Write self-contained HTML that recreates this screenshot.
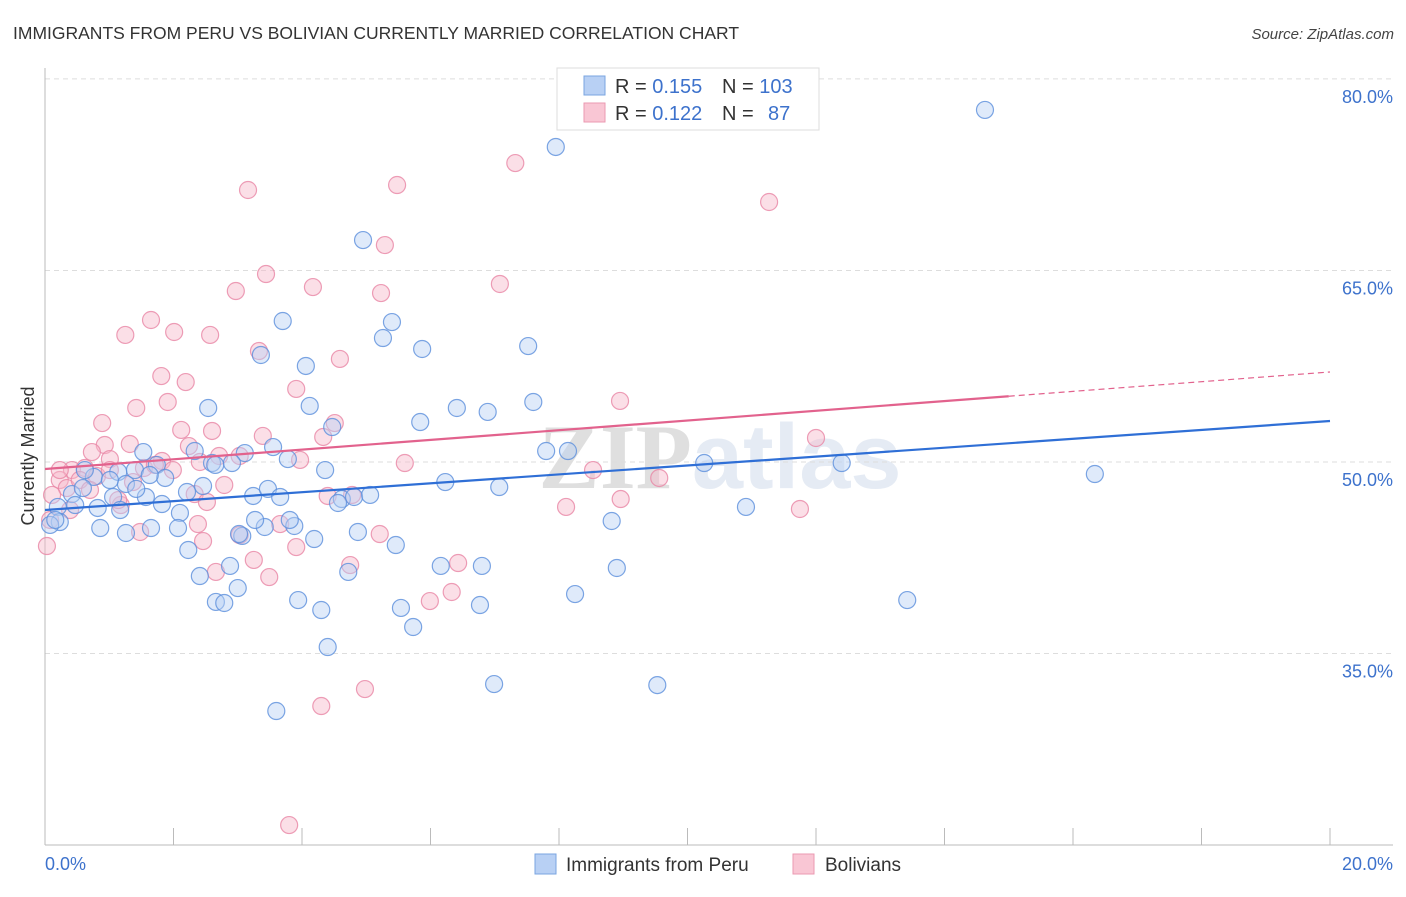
<!DOCTYPE html>
<html><head><meta charset="utf-8"><style>
body{margin:0;background:#fff;font-family:"Liberation Sans",sans-serif;}
svg text{font-family:"Liberation Sans",sans-serif;}
</style></head><body>
<svg id="chart" width="1406" height="892" xmlns="http://www.w3.org/2000/svg">
<text x="13" y="39" font-size="17.5" fill="#333">IMMIGRANTS FROM PERU VS BOLIVIAN CURRENTLY MARRIED CORRELATION CHART</text>
<text x="1394" y="39" font-size="15" fill="#444" text-anchor="end" font-style="italic">Source: ZipAtlas.com</text>
<text x="720" y="488" font-size="92" fill="#dfe7f2" text-anchor="middle" font-weight="bold" opacity="0.8"><tspan fill="#d8d8d8" font-family="Liberation Serif">ZIP</tspan>atlas</text>
<g id="grid"></g><g id="axes"></g><g id="pts"></g><g id="lines"></g>
<text transform="translate(34,456) rotate(-90)" font-size="18" fill="#333" text-anchor="middle">Currently Married</text>
<g>
<rect x="557" y="68" width="262" height="62" fill="#fff" stroke="#ddd"/>
<rect x="584" y="76" width="21" height="19" fill="#b8d0f4" stroke="#7aa5e0"/>
<rect x="584" y="103" width="21" height="19" fill="#f9c6d4" stroke="#eb99b2"/>
<text x="615" y="93" font-size="20" fill="#333">R = <tspan fill="#3d72cc">0.155</tspan>  <tspan x="722">N = </tspan><tspan fill="#3d72cc">103</tspan></text>
<text x="615" y="120" font-size="20" fill="#333">R = <tspan fill="#3d72cc">0.122</tspan>  <tspan x="722">N = </tspan><tspan fill="#3d72cc" x="768">87</tspan></text>
</g>
<g><rect x="535" y="854" width="21" height="20" fill="#b8d0f4" stroke="#7aa5e0"/><text x="566" y="871" font-size="19" fill="#333">Immigrants from Peru</text></g>
<g><rect x="793" y="854" width="21" height="20" fill="#f9c6d4" stroke="#eb99b2"/><text x="825" y="871" font-size="19" fill="#333">Bolivians</text></g>
</svg>
<script>
const xTicks=[0,2,4,6,8,10,12,14,16,18,20];
const yTicks=[35,50,65,80];
const xLabels=["0.0%","20.0%"];
const yLabels=["35.0%","50.0%","65.0%","80.0%"];
const peruX=[14.63,7.95,4.95,3.70,5.40,5.26,5.87,7.52,4.06,3.36,2.54,4.12,6.41,6.89,7.60,5.84,4.47,7.80,8.14,10.26,12.40,16.34,1.53,3.55,3.78,3.11,2.60,2.91,2.33,1.74,1.87,4.36,6.23,7.07,0.76,1.14,0.42,0.59,0.82,1.06,1.57,1.82,2.10,2.46,2.21,3.24,3.47,3.66,4.62,4.81,5.06,4.56,1.26,1.42,0.20,0.23,0.86,1.17,1.65,1.26,2.07,3.07,3.42,3.88,4.19,4.87,5.46,8.82,10.91,2.23,3.02,2.41,2.88,3.00,2.66,2.79,3.94,4.30,4.72,5.54,5.73,6.16,6.80,6.77,8.25,8.90,13.42,4.40,6.99,9.53,3.60,0.08,0.16,0.47,0.62,1.01,1.40,1.63,2.65,3.81,3.27];
const peruY=[77.57,74.67,67.38,61.04,60.96,59.71,58.85,59.08,57.52,58.38,54.23,54.39,54.23,53.92,54.70,53.13,52.74,50.86,50.86,49.92,49.92,49.06,50.78,51.17,50.23,50.70,49.92,49.92,50.86,49.77,48.75,49.37,48.43,48.04,48.83,49.22,47.49,47.96,46.40,47.26,47.26,46.71,46.01,48.12,47.65,47.34,47.89,47.26,47.10,47.26,47.42,46.79,48.28,47.89,46.48,45.30,44.83,46.24,44.83,44.44,44.83,44.21,44.91,44.99,43.97,44.52,43.50,45.38,46.48,43.11,44.36,41.07,41.86,40.13,39.04,38.96,39.19,38.41,41.39,38.57,37.08,41.86,41.86,38.80,39.66,41.70,39.19,35.51,32.61,32.53,30.50,45.07,45.46,46.63,49.37,48.59,49.37,48.98,49.77,45.46,45.46];
const bolX=[3.16,5.48,7.32,11.27,5.29,3.44,2.97,4.17,5.23,7.08,1.65,1.25,2.01,2.57,3.33,4.59,3.91,1.81,2.19,1.42,1.91,8.95,4.51,0.89,2.12,2.24,2.60,3.39,4.33,12.00,1.32,0.93,0.73,1.01,2.71,2.41,1.54,1.82,1.99,0.42,0.62,0.81,5.60,8.53,9.56,1.37,2.33,2.52,2.79,4.40,4.78,0.23,0.34,0.11,1.18,8.11,8.96,11.75,2.38,3.66,1.48,3.03,2.46,5.21,3.91,3.25,4.75,6.43,2.66,3.49,6.33,5.99,4.98,4.30,3.80,0.03,0.08,0.54,1.14,1.71,3.03,3.97,0.23,0.70,1.01,0.39];
const bolY=[71.30,71.69,73.41,70.36,66.99,64.72,63.39,63.70,63.23,63.94,61.12,59.95,60.18,59.95,58.69,58.07,55.72,56.73,56.26,54.23,54.70,54.78,53.05,53.05,52.51,51.25,52.43,52.04,51.96,51.88,51.41,51.33,50.78,50.23,50.47,50.00,49.53,50.08,49.37,49.37,49.53,48.90,49.92,49.37,48.75,48.43,47.49,46.87,48.20,47.34,47.42,48.59,47.96,47.42,46.63,46.48,47.10,46.32,45.14,45.14,44.52,44.28,43.81,44.36,43.34,42.33,41.93,42.09,41.39,40.99,39.82,39.11,32.22,30.89,21.57,43.42,45.46,48.59,47.02,49.77,50.47,50.16,49.37,47.81,49.37,46.24];
const peruTrend=[46.24,53.21];
const bolTrend=[49.45,57.05];
const bolSolidEnd=15.0;
const NS="http://www.w3.org/2000/svg";
const X0=45,X1=1330,Y50=462,PPU=12.77;
function sx(v){return X0+(v-0)/(20)*(X1-X0);}
function sy(v){return Y50-(v-50)*PPU;}
function mk(tag,attrs,parent){const e=document.createElementNS(NS,tag);for(const k in attrs)e.setAttribute(k,attrs[k]);parent.appendChild(e);return e;}
const grid=document.getElementById('grid'),axes=document.getElementById('axes'),pts=document.getElementById('pts'),lines=document.getElementById('lines');
yTicks.forEach((t,i)=>{
 const l=mk('line',{x1:X0,x2:1393,y1:sy(t),y2:sy(t),stroke:'#ddd','stroke-dasharray':'5,4'},grid);
 
 
 const tx=mk('text',{x:1393,y:sy(t)+24,'font-size':18,fill:'#3d72cc','text-anchor':'end'},axes);
 tx.textContent=yLabels[i];
 
 
});
const ya=mk('line',{x1:X0,x2:X0,y1:68,y2:845,stroke:'#bbb'},axes);


const xa=mk('line',{x1:X0,x2:1393,y1:845,y2:845,stroke:'#bbb'},axes);


xTicks.forEach(t=>{
 const l=mk('line',{x1:sx(t),x2:sx(t),y1:828,y2:845,stroke:'#bbb'},axes);
 
 
});
[[0,'start'],[20,'end']].forEach((p,i)=>{
 const tx=mk('text',{x:i?1393:45,y:870,'font-size':18,fill:'#3d72cc','text-anchor':p[1]},axes);
 tx.textContent=xLabels[i];
 
 
});
function drawPts(xs,ys,fill,stroke,name){
 xs.forEach((v,i)=>{
  const c=mk('circle',{cx:sx(v),cy:sy(ys[i]),r:8.5,fill:fill,'fill-opacity':0.45,stroke:stroke,'stroke-width':1.2,'stroke-opacity':0.8},pts);
  
  
 });
}
drawPts(bolX,bolY,'#f6b8c9','#e886a5','point-bolivians');
drawPts(peruX,peruY,'#b8d0f4','#5b8fdc','point-peru');
const pl=mk('line',{x1:sx(0),y1:sy(peruTrend[0]),x2:sx(20),y2:sy(peruTrend[1]),stroke:'#2f6fd6','stroke-width':2.2},lines);


const bm=bolTrend[0]+(bolTrend[1]-bolTrend[0])*bolSolidEnd/20;
const bl=mk('line',{x1:sx(0),y1:sy(bolTrend[0]),x2:sx(bolSolidEnd),y2:sy(bm),stroke:'#e2628d','stroke-width':2.2},lines);


const bd=mk('line',{x1:sx(bolSolidEnd),y1:sy(bm),x2:sx(20),y2:sy(bolTrend[1]),stroke:'#e2628d','stroke-width':1.2,'stroke-dasharray':'6,4'},lines);


</script>
</body></html>
